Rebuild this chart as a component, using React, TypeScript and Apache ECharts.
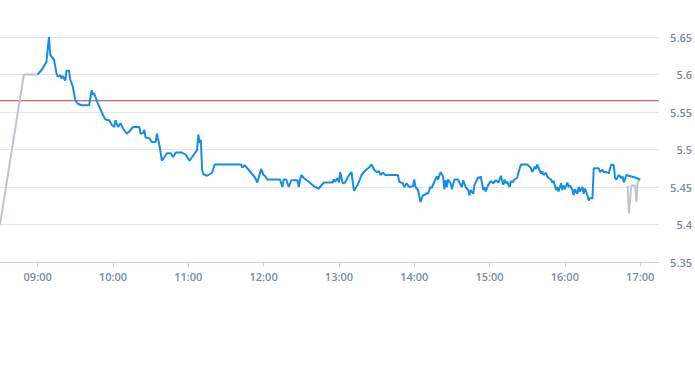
import React, { useEffect, useRef } from "react";
import * as echarts from "echarts";

const xTickLabels = ["09:00", "10:00", "11:00", "12:00", "13:00", "14:00", "15:00", "16:00", "17:00"];
const referencePrice = 5.565;

const preTimes = ["08:30", "08:49", "09:00"];
const prePrices = [5.4, 5.6, 5.6];

const postTimes = ["16:50", "16:51", "16:53", "16:56", "16:57", "16:58", "16:59", "17:00"];
const postPrices = [5.452, 5.415, 5.452, 5.452, 5.43, 5.456, 5.459, 5.46];

const mainTimes = [
  "09:00","09:04","09:07","09:09","09:10","09:13","09:15","09:16","09:18","09:19","09:20","09:22","09:23","09:25","09:26","09:28","09:30","09:32","09:35","09:41",
  "09:43","09:44","09:45","09:48","09:51","09:52","09:54","09:57","09:59","10:01","10:02","10:04","10:06","10:08","10:11","10:13","10:16","10:21","10:22","10:24",
  "10:25","10:26","10:29","10:31","10:34","10:35","10:37","10:39","10:41","10:43","10:46","10:48","10:50","10:55","10:58","11:01","11:06","11:07","11:08","11:09",
  "11:10","11:11","11:12","11:15","11:19","11:21","11:42","11:43","11:45","11:47","11:50","11:53","11:55","11:56","11:58","12:00","12:01","12:03","12:13","12:15",
  "12:16","12:18","12:20","12:22","12:27","12:28","12:29","12:30","12:32","12:36","12:40","12:44","12:45","12:48","12:55","12:56","12:57","12:59","13:00","13:01",
  "13:03","13:05","13:07","13:10","13:12","13:15","13:18","13:21","13:24","13:26","13:28","13:30","13:32","13:33","13:35","13:37","13:47","13:48","13:51","13:52",
  "13:54","13:56","13:59","14:00","14:01","14:03","14:05","14:07","14:09","14:10","14:11","14:12","14:13","14:14","14:16","14:18","14:19","14:21","14:23","14:24",
  "14:25","14:26","14:27","14:29","14:30","14:32","14:35","14:36","14:38","14:39","14:41","14:43","14:44","14:45","14:47","14:48","14:49","14:51","14:52","14:53",
  "14:55","14:56","14:57","14:59","15:00","15:01","15:03","15:04","15:05","15:07","15:08","15:09","15:11","15:12","15:13","15:14","15:16","15:17","15:18","15:20",
  "15:22","15:23","15:25","15:30","15:32","15:33","15:34","15:36","15:37","15:38","15:39","15:41","15:42","15:43","15:45","15:46","15:47","15:49","15:50","15:51",
  "15:53","15:54","15:55","15:57","15:58","15:59","16:00","16:02","16:03","16:04","16:06","16:07","16:08","16:10","16:11","16:12","16:14","16:15","16:16","16:18",
  "16:19","16:20","16:22","16:23","16:25","16:27","16:28","16:30","16:31","16:33","16:35","16:36","16:37","16:39","16:40","16:41","16:43","16:45","16:46","16:47",
  "16:49","16:53","16:57","17:00"
];
const mainPrices = [
  5.600,5.608,5.617,5.650,5.626,5.620,5.602,5.597,5.599,5.595,5.598,5.592,5.605,5.605,5.593,5.584,5.566,5.561,5.559,5.559,
  5.579,5.573,5.575,5.561,5.550,5.546,5.540,5.539,5.533,5.530,5.539,5.530,5.535,5.528,5.521,5.524,5.530,5.530,5.521,5.522,
  5.526,5.516,5.515,5.510,5.510,5.521,5.506,5.485,5.490,5.495,5.495,5.490,5.496,5.496,5.493,5.485,5.497,5.499,5.520,5.509,
  5.513,5.473,5.467,5.465,5.469,5.480,5.480,5.476,5.479,5.475,5.469,5.463,5.456,5.462,5.474,5.466,5.465,5.460,5.460,5.450,
  5.460,5.460,5.450,5.459,5.459,5.450,5.459,5.466,5.462,5.457,5.451,5.448,5.450,5.456,5.456,5.460,5.457,5.462,5.456,5.470,
  5.455,5.456,5.463,5.470,5.445,5.453,5.466,5.472,5.476,5.480,5.473,5.470,5.471,5.466,5.469,5.466,5.466,5.457,5.455,5.450,
  5.455,5.450,5.451,5.460,5.450,5.446,5.430,5.439,5.440,5.442,5.441,5.446,5.450,5.449,5.457,5.464,5.460,5.470,5.464,5.447,
  5.459,5.450,5.460,5.455,5.447,5.460,5.460,5.456,5.450,5.459,5.450,5.446,5.439,5.446,5.441,5.453,5.456,5.463,5.462,5.464,
  5.446,5.450,5.444,5.453,5.455,5.458,5.455,5.457,5.459,5.456,5.460,5.465,5.453,5.460,5.455,5.457,5.450,5.458,5.456,5.460,
  5.462,5.469,5.480,5.480,5.477,5.475,5.470,5.477,5.474,5.480,5.476,5.468,5.471,5.466,5.469,5.464,5.462,5.460,5.456,5.458,
  5.446,5.450,5.444,5.455,5.446,5.452,5.447,5.456,5.450,5.452,5.446,5.439,5.447,5.441,5.450,5.444,5.450,5.441,5.448,5.439,
  5.432,5.435,5.435,5.475,5.475,5.475,5.470,5.473,5.470,5.470,5.468,5.475,5.480,5.479,5.462,5.460,5.466,5.462,5.464,5.456,
  5.466,5.464,5.462,5.460
];

const axisStart = "08:30";
const axisEnd = "17:15";

const toMin = (s: string) => {
  const [h, m] = s.split(":").map(Number);
  return h * 60 + m;
};
const fmt = (v: number) => {
  const h = Math.floor(v / 60);
  const m = Math.round(v % 60);
  return `${String(h).padStart(2, "0")}:${String(m).padStart(2, "0")}`;
};
const pair = (t: string[], p: number[]) => t.map((s, i) => [toMin(s), p[i]]);

export default function App() {
  const ref = useRef<HTMLDivElement>(null);
  useEffect(() => {
    if (!ref.current) return;
    const chart = echarts.init(ref.current, undefined, { renderer: "svg" });
    const tickVals = xTickLabels.map(toMin);
    const labelColor = "#7c8b9c";
    chart.setOption({
      animation: false,
      grid: { left: 0, right: 31, top: 37, bottom: 108, containLabel: false },
      xAxis: {
        type: "value",
        min: toMin(axisStart),
        max: toMin(axisEnd),
        axisLine: { show: true, lineStyle: { color: "#ccd6eb", width: 1 } },
        axisTick: { show: true, customValues: tickVals, length: 5, inside: false, lineStyle: { color: "#ccd6eb" } },
        axisLabel: {
          customValues: tickVals,
          formatter: (v: number) => fmt(v),
          color: labelColor,
          fontFamily: "Open Sans",
          fontSize: 11,
          fontWeight: 600,
          margin: 9,
        },
        splitLine: { show: false },
      },
      yAxis: {
        type: "value",
        position: "right",
        min: 5.35,
        max: 5.65,
        interval: 0.05,
        axisLine: { show: false },
        axisTick: { show: false },
        axisLabel: {
          color: labelColor,
          fontFamily: "Open Sans",
          fontSize: 11,
          fontWeight: 600,
          align: "right",
          margin: 33,
        },
        splitLine: { show: true, lineStyle: { color: "#e6e6e6", width: 1 } },
      },
      series: [
        {
          type: "line",
          data: [
            [toMin(axisStart), referencePrice],
            [toMin(axisEnd), referencePrice],
          ],
          showSymbol: false,
          silent: true,
          lineStyle: { color: "#c0393b", width: 1 },
          z: 1,
        },
        {
          type: "line",
          data: pair(preTimes, prePrices),
          showSymbol: false,
          lineStyle: { color: "#bcc5cd", width: 2 },
          z: 2,
        },
        {
          type: "line",
          data: pair(postTimes, postPrices),
          showSymbol: false,
          lineStyle: { color: "#bcc5cd", width: 2 },
          z: 2,
        },
        {
          type: "line",
          data: pair(mainTimes, mainPrices),
          showSymbol: false,
          lineStyle: { color: "#168fe0", width: 2 },
          z: 3,
        },
      ],
    });
    return () => chart.dispose();
  }, []);
  return <div ref={ref} style={{ position: "absolute", left: 0, top: 0, width: 695, height: 370 }} />;
}
